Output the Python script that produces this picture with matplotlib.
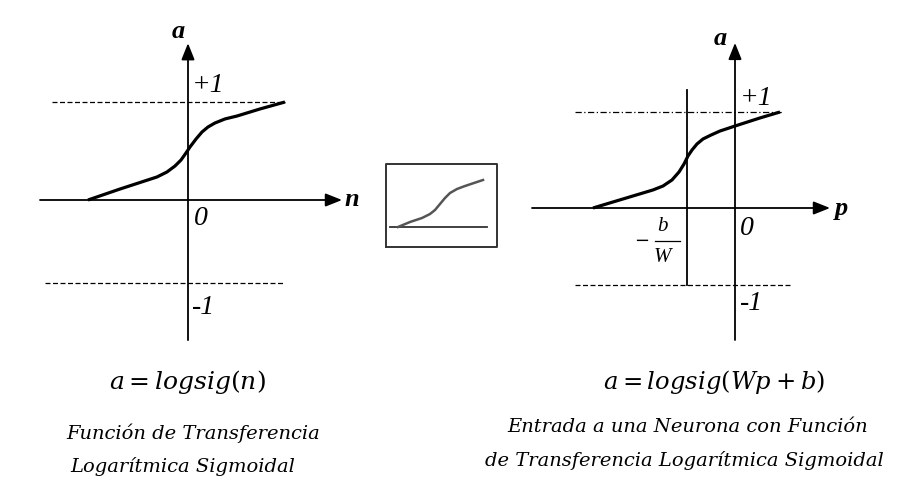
import matplotlib
matplotlib.use("Agg")
import matplotlib.pyplot as plt

W_PX, H_PX, DPI = 905, 490, 100

# ---------------- data (diagram units) ----------------
# left panel: a = logsig(n)
left_n = [-1.00, -0.68, -0.31, -0.21, -0.13, -0.07, -0.02, 0.02, 0.08, 0.14,
          0.20, 0.27, 0.37, 0.49, 0.72, 0.97]
left_a = [0.00, 0.112, 0.235, 0.286, 0.347, 0.408, 0.480, 0.541, 0.622, 0.694,
          0.745, 0.786, 0.827, 0.857, 0.929, 1.00]
left_upper_level = 1.0
left_lower_level = -0.85

# right panel: a = logsig(Wp + b)
right_p = [-1.42, -0.82, -0.72, -0.63, -0.56, -0.51, -0.47, -0.43, -0.38, -0.32,
           -0.24, -0.15, 0.00, 0.25, 0.45]
right_a = [0.00, 0.188, 0.229, 0.292, 0.375, 0.458, 0.542, 0.604, 0.667, 0.719,
           0.760, 0.802, 0.854, 0.938, 1.00]
right_upper_level = 1.0
right_lower_level = -0.80
right_bias_p = -0.48

# middle icon
icon_x = [0.00, 0.12, 0.24, 0.32, 0.37, 0.42, 0.47, 0.52, 0.59, 0.67, 0.85]
icon_y = [0.00, 0.05, 0.09, 0.13, 0.17, 0.23, 0.29, 0.34, 0.38, 0.41, 0.47]

left_formula = "$a = logsig(n)$"
left_caption = ["Función de Transferencia", "Logarítmica Sigmoidal"]
right_formula = "$a = logsig(Wp+b)$"
right_caption = ["Entrada a una Neurona con Función",
                 "de Transferencia Logarítmica Sigmoidal"]

plt.rcParams['mathtext.fontset'] = 'dejavuserif'

fig = plt.figure(figsize=(W_PX / DPI, H_PX / DPI), dpi=DPI)
fig.patch.set_facecolor('white')


def panel(x0, y0, sx, sy):
    """Full-figure transparent axes whose data origin sits at pixel (x0, y0)."""
    ax = fig.add_axes([0, 0, 1, 1])
    ax.set_xlim(-x0 / sx, (W_PX - x0) / sx)
    ax.set_ylim((y0 - H_PX) / sy, y0 / sy)
    ax.axis('off')
    ax.patch.set_alpha(0)
    return ax


def arrow(ax, start, tip):
    ax.annotate('', xy=tip, xytext=start,
                arrowprops=dict(arrowstyle='-|>,head_length=0.5,head_width=0.2',
                                lw=1.3, color='black', mutation_scale=20,
                                shrinkA=0, shrinkB=0))


lab = dict(family='Liberation Serif', style='italic', color='black')

# ---------------- left panel ----------------
axL = panel(188, 200, 100, 98)
arrow(axL, (-1.48, 0), (1.54, 0))
arrow(axL, (0, -1.43), (0, 1.60))
axL.plot([-1.36, 0.97], [left_upper_level] * 2, color='black', lw=0.9, dashes=(4, 2))
axL.plot([-1.43, 0.97], [left_lower_level] * 2, color='black', lw=0.9, dashes=(4, 2))
axL.plot(left_n, left_a, color='black', lw=2.3, solid_capstyle='butt',
         solid_joinstyle='round')
axL.text(-0.10, 1.72, 'a', fontsize=19, weight='bold', ha='center', va='center', **lab)
axL.text(1.64, 0.0, 'n', fontsize=19, weight='bold', ha='center', va='center', **lab)
axL.text(0.04, 1.17, '+1', fontsize=20, ha='left', va='center', **lab)
axL.text(0.06, -0.19, '0', fontsize=20, ha='left', va='center', **lab)
axL.text(0.04, -1.10, '-1', fontsize=20, ha='left', va='center', **lab)

# ---------------- right panel ----------------
axR = panel(735, 208, 100, 96)
arrow(axR, (-2.03, 0), (0.95, 0))
arrow(axR, (0, -1.375), (0, 1.72))
axR.plot([-1.60, 0.48], [right_upper_level] * 2, color='black', lw=0.9, dashes=(5, 2, 1, 2))
axR.plot([-1.60, 0.55], [right_lower_level] * 2, color='black', lw=0.9, dashes=(4, 2))
axR.plot([right_bias_p] * 2, [right_lower_level, 1.23], color='black', lw=1.3)
axR.plot(right_p, right_a, color='black', lw=2.3, solid_capstyle='butt',
         solid_joinstyle='round')
axR.text(-0.15, 1.77, 'a', fontsize=19, weight='bold', ha='center', va='center', **lab)
axR.text(1.06, 0.0, 'p', fontsize=19, weight='bold', ha='center', va='center', **lab)
axR.text(0.05, 1.14, '+1', fontsize=20, ha='left', va='center', **lab)
axR.text(0.05, -0.21, '0', fontsize=20, ha='left', va='center', **lab)
axR.text(0.05, -1.00, '-1', fontsize=20, ha='left', va='center', **lab)
axR.text(-0.93, -0.34, '\u2212', fontsize=13, ha='center', va='center',
         family='DejaVu Serif', color='black')
axR.text(-0.73, -0.19, 'b', fontsize=15, ha='center', va='center', **lab)
axR.plot([-0.80, -0.55], [-0.345, -0.345], color='black', lw=0.9)
axR.text(-0.73, -0.52, 'W', fontsize=15, ha='center', va='center', **lab)

# ---------------- middle icon ----------------
axM = panel(398, 227, 100, 100)
axM.plot([-0.12, 0.99, 0.99, -0.12, -0.12], [-0.20, -0.20, 0.63, 0.63, -0.20],
         color='#333333', lw=1.4)
axM.plot([-0.08, 0.89], [0, 0], color='#333333', lw=1.3)
axM.plot(icon_x, icon_y, color='#555555', lw=1.8, solid_joinstyle='round')

# ---------------- captions ----------------
cap = dict(family='DejaVu Serif', style='italic', color='black')


def fx(px):
    return px / W_PX


def fy(py):
    return 1 - py / H_PX


fig.text(fx(187), fy(382), left_formula, fontsize=18, ha='center', va='center')
fig.text(fx(193), fy(433), left_caption[0], fontsize=14, ha='center', va='center', **cap)
fig.text(fx(70), fy(466), left_caption[1], fontsize=14, ha='left', va='center', **cap)
fig.text(fx(714), fy(382), right_formula, fontsize=17.5, ha='center', va='center')
fig.text(fx(688), fy(427), right_caption[0], fontsize=14, ha='center', va='center', **cap)
fig.text(fx(684), fy(460), right_caption[1], fontsize=14, ha='center', va='center', **cap)

fig.savefig('out.png', dpi=DPI, facecolor='white')
